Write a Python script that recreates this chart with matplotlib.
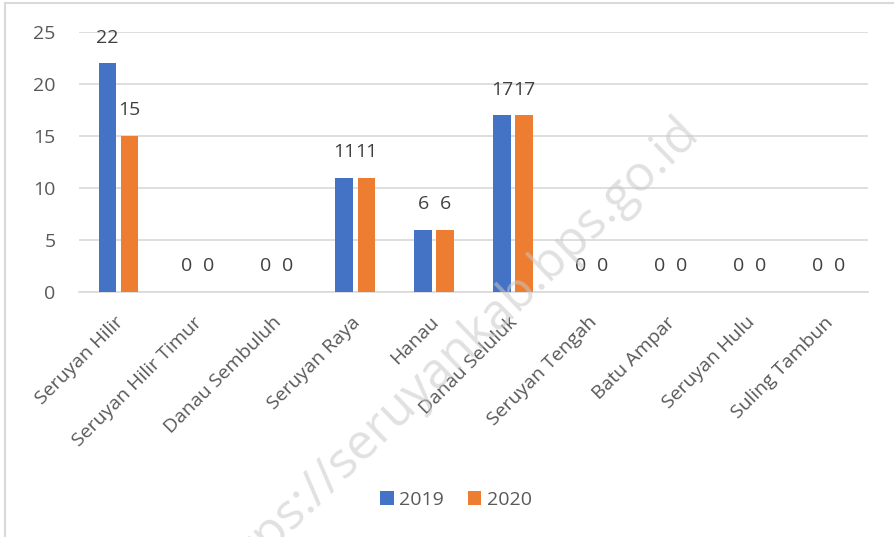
import numpy as np
import matplotlib
matplotlib.use("Agg")
import matplotlib.pyplot as plt
import matplotlib.transforms as mtrans
from matplotlib.patches import Rectangle

plt.rcParams['font.family'] = ['Open Sans', 'DejaVu Sans']

# data
kecamatan = ["Seruyan Hilir", "Seruyan Hilir Timur", "Danau Sembuluh", "Seruyan Raya",
             "Hanau", "Danau Seluluk", "Seruyan Tengah", "Batu Ampar", "Seruyan Hulu",
             "Suling Tambun"]
th2019 = [22, 0, 0, 11, 6, 17, 0, 0, 0, 0]
th2020 = [15, 0, 0, 11, 6, 17, 0, 0, 0, 0]

blue = "#4472C4"
orange = "#ED7D31"
txt = "#595959"
fs = 14

fig = plt.figure(figsize=(8.95, 5.37), dpi=100)
ax = fig.add_axes([79/895, 1-292/537, (868-79)/895, 260/537])

x = np.arange(len(kecamatan))
w = 0.22
off = 0.14
b1 = ax.bar(x - off, th2019, w, color=blue, label="2019", zorder=3)
b2 = ax.bar(x + off, th2020, w, color=orange, label="2020", zorder=3)

for bars, vals in ((b1, th2019), (b2, th2020)):
    for r, v in zip(bars, vals):
        ax.annotate(str(v), (r.get_x() + r.get_width()/2, v), xytext=(0, 18.5),
                    textcoords="offset points", ha="center", va="center",
                    fontsize=fs, color="#404040")

ax.set_xlim(-0.5, len(kecamatan) - 0.5)
ax.set_ylim(0, 25)
ax.set_yticks([0, 5, 10, 15, 20, 25])
ax.yaxis.grid(True, color="#d9d9d9", lw=1.2, zorder=0)
for s in ("top", "right", "left"):
    ax.spines[s].set_visible(False)
ax.spines["bottom"].set_color("#d9d9d9")
ax.spines["bottom"].set_linewidth(1.2)
ax.tick_params(axis="y", length=0, pad=17, labelsize=fs, labelcolor=txt)
ax.tick_params(axis="x", length=0, pad=4, labelsize=fs, labelcolor=txt)
ax.set_xticks(x)
ax.set_xticklabels(kecamatan, rotation=45, ha="right", va="center", rotation_mode="anchor")
shift = mtrans.ScaledTranslation(2/100, -22/100, fig.dpi_scale_trans)
for lb in ax.get_xticklabels():
    lb.set_transform(lb.get_transform() + shift)

fig.legend(loc="center", bbox_to_anchor=(456/895, 1-500/537), ncol=2, frameon=False,
           fontsize=fs, labelcolor=txt, handlelength=0.7, handleheight=0.7,
           handletextpad=0.3, columnspacing=1.2)

# watermark
fig.text(452/895, 1-356/537, "https://seruyankab.bps.go.id", rotation=44, fontsize=36,
         color="#c8c8c8", alpha=0.55, ha="center", va="center", zorder=10)

# chart border
fig.patches.append(Rectangle((5/895, -0.1), 1.5, 1 - 3/537 + 0.1, transform=fig.transFigure,
                             fill=False, edgecolor="#d9d9d9", lw=1.5))

fig.savefig("out.png", dpi=100)
